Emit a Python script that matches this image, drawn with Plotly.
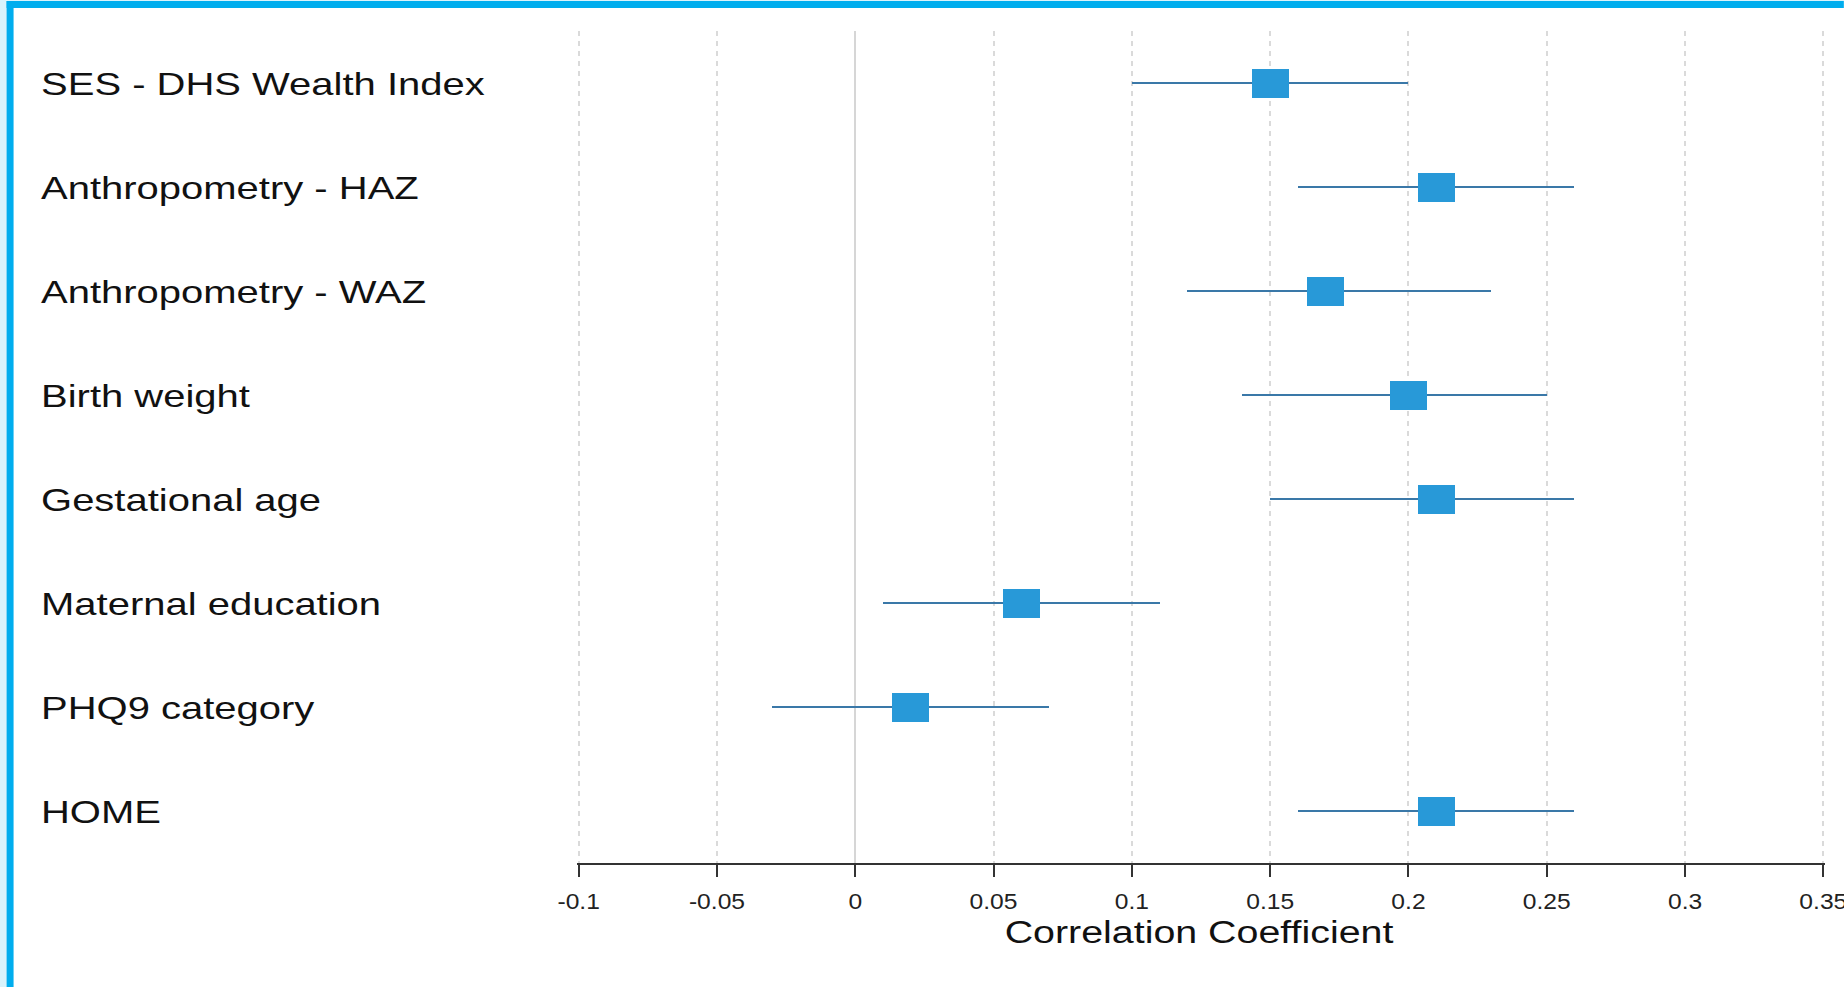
import json
import plotly.graph_objects as go

# Forest plot: correlation of each predictor with the outcome, with 95% CI
predictors = [
    "SES - DHS Wealth Index",
    "Anthropometry - HAZ",
    "Anthropometry - WAZ",
    "Birth weight",
    "Gestational age",
    "Maternal education",
    "PHQ9 category",
    "HOME",
]
estimate = [0.15, 0.21, 0.17, 0.20, 0.21, 0.06, 0.02, 0.21]
ci_low = [0.10, 0.16, 0.12, 0.14, 0.15, 0.01, -0.03, 0.16]
ci_high = [0.20, 0.26, 0.23, 0.25, 0.26, 0.11, 0.07, 0.26]

tick_values = [-0.1, -0.05, 0, 0.05, 0.1, 0.15, 0.2, 0.25, 0.3, 0.35]
tick_labels = ["-0.1", "-0.05", "0", "0.05", "0.1", "0.15", "0.2", "0.25", "0.3", "0.35"]

# canvas / plot-area geometry in pixels
W, H = 1844, 987
X_FIRST_PX, X_LAST_PX = 579.0, 1823.5   # pixel columns of the first / last tick
EDGE_PAD = 0.0006                        # keeps the end gridlines inside the range
MT, MB = 31, 124

span = tick_values[-1] - tick_values[0]
px_per_unit = (X_LAST_PX - X_FIRST_PX) / span
ML = X_FIRST_PX - EDGE_PAD * px_per_unit
MR = W - (X_LAST_PX + EDGE_PAD * px_per_unit)
PW, PH = W - ML - MR, H - MT - MB

FONT = "Liberation Sans, Arial, sans-serif"
BOX_COLOR = "#2899d8"
CI_COLOR = "#3a78a8"
TEXT_COLOR = "#111111"

rows = list(range(len(predictors)))
px_per_row = PH / len(predictors)
box_w = 37 / px_per_unit      # box width in data units
box_h = 29 / px_per_row       # box height in row units
ci_h = 2 / px_per_row         # CI stroke thickness in row units


def xp(px):
    return (px - ML) / PW


def yp(py):
    return (H - MB - py) / PH


fig = go.Figure()

# confidence intervals
fig.add_trace(go.Bar(
    orientation="h",
    y=rows,
    base=ci_low,
    x=[h - l for l, h in zip(ci_low, ci_high)],
    width=ci_h,
    marker=dict(color=CI_COLOR, line=dict(width=0)),
    hoverinfo="skip",
    showlegend=False,
))

# point estimates
fig.add_trace(go.Bar(
    orientation="h",
    y=rows,
    base=[e - box_w / 2 for e in estimate],
    x=[box_w] * len(estimate),
    width=box_h,
    marker=dict(color=BOX_COLOR, line=dict(width=0)),
    customdata=list(zip(predictors, estimate, ci_low, ci_high)),
    hovertemplate="%{customdata[0]}<br>r = %{customdata[1]} (%{customdata[2]}, %{customdata[3]})<extra></extra>",
    showlegend=False,
))

# wide (horizontally stretched) lettering: [annotation index, x-scale, pivot]
stretch_spec = []
annotations = []
for r, name in zip(rows, predictors):
    stretch_spec.append([len(annotations), 1.29, "start"])
    annotations.append(dict(
        text=name, xref="paper", yref="y", x=xp(39), y=r,
        xanchor="left", yanchor="middle", yshift=-1, showarrow=False,
        font=dict(family=FONT, size=31, color=TEXT_COLOR),
    ))

# axis title
stretch_spec.append([len(annotations), 1.27, "middle"])
annotations.append(dict(
    text="Correlation Coefficient", xref="paper", yref="paper",
    x=xp(1199.5), y=0, xanchor="center", yanchor="middle",
    yshift=-(932 - (H - MB)), showarrow=False,
    font=dict(family=FONT, size=31, color=TEXT_COLOR),
))

# blue page frame along the left and top edges
shapes = [
    dict(type="rect", xref="paper", yref="paper", layer="above",
         x0=xp(0), x1=xp(7), y0=yp(H), y1=yp(0),
         fillcolor="#d8f3fc", line=dict(width=0)),
    dict(type="rect", xref="paper", yref="paper", layer="above",
         x0=xp(7), x1=xp(W), y0=yp(0), y1=yp(1),
         fillcolor="#d8f3fc", line=dict(width=0)),
    dict(type="rect", xref="paper", yref="paper", layer="above",
         x0=xp(7), x1=xp(14), y0=yp(H), y1=yp(1),
         fillcolor="#00adee", line=dict(width=0)),
    dict(type="rect", xref="paper", yref="paper", layer="above",
         x0=xp(7), x1=xp(W), y0=yp(8), y1=yp(1),
         fillcolor="#00adee", line=dict(width=0)),
]

fig.update_layout(
    width=W, height=H,
    margin=dict(l=ML, r=MR, t=MT, b=MB, pad=0, autoexpand=False),
    paper_bgcolor="white", plot_bgcolor="white",
    barmode="overlay",
    bargap=0,
    annotations=annotations,
    shapes=shapes,
    font=dict(family=FONT, color=TEXT_COLOR),
)

fig.update_xaxes(
    automargin=False,
    range=[tick_values[0] - EDGE_PAD, tick_values[-1] + EDGE_PAD],
    tickmode="array", tickvals=tick_values, ticktext=tick_labels,
    tickfont=dict(family=FONT, size=22, color="#222222"),
    ticklabeloverflow="allow",
    ticks="outside", ticklen=12, tickwidth=2, tickcolor="#333333",
    ticklabelstandoff=6,
    showline=True, linecolor="#333333", linewidth=2,
    showgrid=True, gridcolor="#dadada", gridwidth=1.5, griddash="5px,5px",
    zeroline=True, zerolinecolor="#d6d6d6", zerolinewidth=1.5,
    fixedrange=True,
)
fig.update_yaxes(
    automargin=False,
    range=[len(predictors) - 0.5, -0.5],
    showticklabels=False, showgrid=False, zeroline=False, showline=False,
    ticks="", fixedrange=True,
)

# after drawing: widen the lettering horizontally around each label's anchor
post_js = """
var gd = document.getElementById('{plot_id}');
function widen(el, s, pivot) {
  var b = el.getBBox();
  var cx = pivot === 'start' ? b.x : b.x + b.width / 2;
  var t = el.getAttribute('transform') || '';
  el.setAttribute('transform', t + ' translate(' + cx + ',0) scale(' + s + ',1) translate(' + (-cx) + ',0)');
}
var spec = SPEC;
spec.forEach(function(item) {
  var g = gd.querySelector('g.annotation[data-index="' + item[0] + '"]');
  if (g) {
    var txt = g.querySelector('text.annotation-text');
    if (txt) { widen(txt, item[1], item[2]); }
  }
});
gd.querySelectorAll('g.xtick text').forEach(function(el) { widen(el, 1.12, 'middle'); });
""".replace("SPEC", json.dumps(stretch_spec))

fig.write_html("out.html", post_script=post_js)
